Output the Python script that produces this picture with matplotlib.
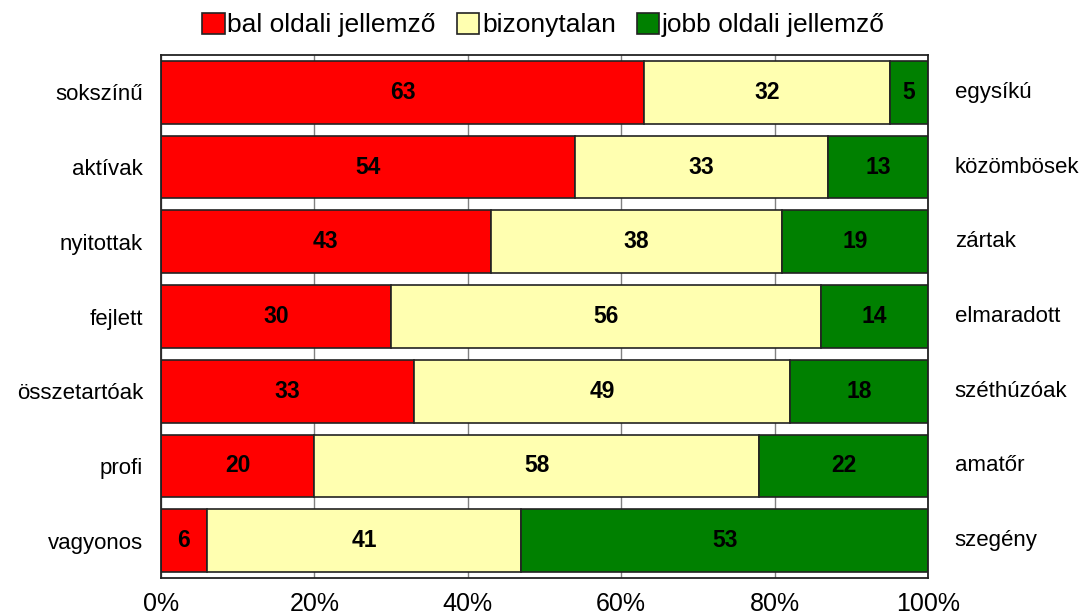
import matplotlib.pyplot as plt
import numpy as np

bal_cimkek = ['sokszínű', 'aktívak', 'nyitottak', 'fejlett', 'összetartóak', 'profi', 'vagyonos']
jobb_cimkek = ['egysíkú', 'közömbösek', 'zártak', 'elmaradott', 'széthúzóak', 'amatőr', 'szegény']
bal = [63, 54, 43, 30, 33, 20, 6]
bizonytalan = [32, 33, 38, 56, 49, 58, 41]
jobb = [5, 13, 19, 14, 18, 22, 53]
sorozatok = ['bal oldali jellemző', 'bizonytalan', 'jobb oldali jellemző']
szinek = ['#FF0000', '#FFFFB0', '#008000']

plt.rcParams['font.family'] = ['Liberation Sans', 'DejaVu Sans']

fig = plt.figure(figsize=(10.87, 6.14), dpi=100)
ax = fig.add_axes([0.1481, 0.0586, 0.7056, 0.8518])

y = np.arange(len(bal_cimkek))
adatok = np.array([bal, bizonytalan, jobb], dtype=float)
osszeg = adatok.sum(axis=0)
szazalek = adatok / osszeg
bal_kezdet = np.zeros(len(y))
for i in range(3):
    ax.barh(y, szazalek[i], left=bal_kezdet, height=0.84, color=szinek[i],
            edgecolor='#222222', linewidth=1.2, label=sorozatok[i], zorder=2)
    for j in range(len(y)):
        ax.text(bal_kezdet[j] + szazalek[i][j] / 2, y[j], str(int(adatok[i][j])),
                ha='center', va='center', fontsize=16.5, fontweight='bold', zorder=3)
    bal_kezdet += szazalek[i]

ax.set_xlim(0, 1)
ax.set_ylim(len(y) - 0.5, -0.5)
ax.set_xticks(np.linspace(0, 1, 6))
ax.set_xticklabels([f'{int(v)}%' for v in np.linspace(0, 100, 6)], fontsize=18)
ax.set_yticks(y)
ax.set_yticklabels(bal_cimkek, fontsize=16)
ax.tick_params(axis='y', length=0, pad=13)
ax.tick_params(axis='x', length=0, pad=10)
ax.grid(axis='x', color='#808080', linewidth=1, zorder=0)
for s in ax.spines.values():
    s.set_linewidth(1.3)
    s.set_color('#222222')

for j in range(len(y)):
    ax.text(1.035, y[j], jobb_cimkek[j], transform=ax.get_yaxis_transform(),
            ha='left', va='center', fontsize=16)

fig.legend(loc='upper center', bbox_to_anchor=(0.5, 1.018), ncol=3, frameon=False,
           fontsize=19, handlelength=0.85, handleheight=0.85, handletextpad=0.1,
           columnspacing=0.8)

fig.savefig('out.png', dpi=100)
